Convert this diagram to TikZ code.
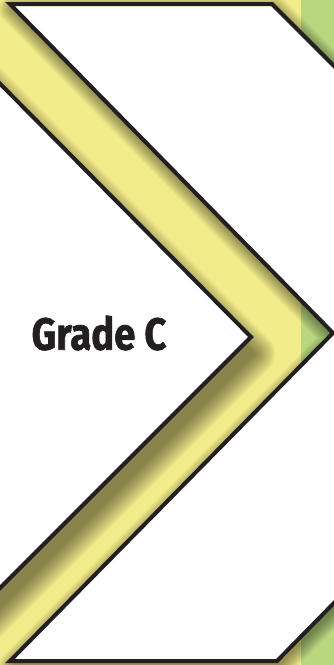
\documentclass[tikz,border=0pt]{standalone}
\usepackage{fontspec}
\setmainfont{Fira Sans}
\newfontfamily\gradefont[BoldFeatures={FakeBold=1.5}]{Fira Sans}
\definecolor{band}{HTML}{F3EC8B}
\definecolor{strip}{HTML}{B8D77E}
\definecolor{ink}{HTML}{231F20}
\newcommand{\chevA}{(-80,3) -- (251,337) -- (-80,668) -- cycle}
\newcommand{\chevB}{(10,4) -- (272,4) -- (600,332) -- (277,661) -- (10,661) -- (333,333) -- cycle}
\tikzset{
  edge/.style={fill=white, draw=ink, line width=4pt, line join=miter},
  soft/.style={fill=black, draw=black, line join=round},
}

\begin{document}
\begin{tikzpicture}[x=1pt, y=-1pt]
  \useasboundingbox (0,0) rectangle (333,665);
  \clip (-3,-3) rectangle (336,668);
  % Yellow ground and the green strip at the right.
  \fill[band] (-3,-3) rectangle (336,668);
  \fill[strip] (301,-3) rectangle (336,668);

  % Soft shadows under the two white chevrons.
  \foreach \w in {1,3,...,43} {
    \begin{scope}[transparency group, opacity=0.025]
      \path[soft, line width=\w pt, shift={(3,17)}] \chevA;
    \end{scope}
  }
  \foreach \w in {1,3,...,27} {
    \begin{scope}[transparency group, opacity=0.03]
      \path[soft, line width=\w pt, shift={(2,5)}] \chevB;
    \end{scope}
  }

  % The white chevrons.
  \path[edge] \chevA;
  \path[edge] \chevB;

  \node[text=ink, font=\gradefont\fontsize{45}{45}\selectfont\bfseries, xscale=0.85] (grade) at (99,333) {Grade C};
\end{tikzpicture}
\end{document}
